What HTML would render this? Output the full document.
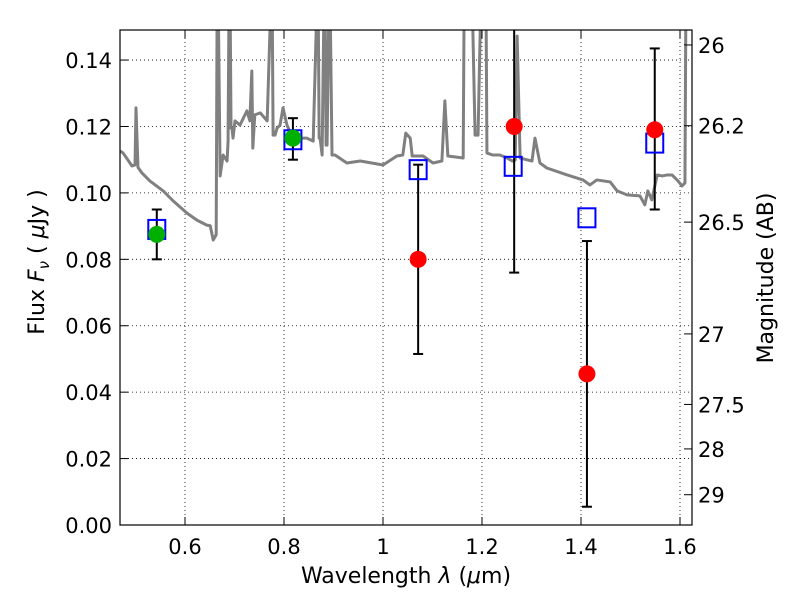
<!DOCTYPE html>
<html><head><meta charset="utf-8"><style>
html,body{margin:0;padding:0;background:#fff;}
svg text{font-family:"DejaVu Sans","Liberation Sans",sans-serif;fill:#000;}
</style></head><body>
<svg id="chart" width="800" height="600" xmlns="http://www.w3.org/2000/svg">
<defs><clipPath id="clip"><rect x="120" y="30" width="572" height="495"/></clipPath></defs>
<rect width="800" height="600" fill="#fff"/>
<g id="grid"></g>
<g id="spec" clip-path="url(#clip)"></g>
<g id="marks" clip-path="url(#clip)"></g>
<rect x="120" y="30" width="572" height="495" fill="none" stroke="#000" stroke-width="1.2"/>
<g id="axes"></g>
<text x="406" y="583" font-size="22" text-anchor="middle">Wavelength  <tspan font-style="italic">λ</tspan> (<tspan font-style="italic">μ</tspan>m)</text>
<text transform="translate(44,262) rotate(-90)" font-size="22" text-anchor="middle">Flux  <tspan font-style="italic">F<tspan font-size="15" dy="5">ν</tspan></tspan><tspan dy="-5">  (  </tspan><tspan font-style="italic">μ</tspan>Jy )</text>
<text transform="translate(773,278) rotate(-90)" font-size="22" text-anchor="middle">Magnitude (AB)</text>
</svg>
<script>
const specLam=[0.469,0.475,0.493,0.499,0.501,0.505,0.513,0.529,0.556,0.576,0.604,0.624,0.644,0.651,0.657,0.663,0.665,0.667,0.671,0.677,0.685,0.687,0.689,0.691,0.693,0.695,0.697,0.701,0.711,0.725,0.731,0.735,0.737,0.741,0.752,0.766,0.774,0.776,0.778,0.782,0.786,0.792,0.798,0.806,0.818,0.846,0.859,0.867,0.869,0.871,0.873,0.877,0.881,0.883,0.885,0.887,0.891,0.893,0.897,0.899,0.903,0.927,0.954,1.000,1.028,1.040,1.046,1.055,1.059,1.081,1.101,1.119,1.125,1.131,1.162,1.164,1.166,1.178,1.180,1.186,1.192,1.198,1.200,1.206,1.208,1.210,1.222,1.236,1.251,1.261,1.267,1.271,1.277,1.301,1.307,1.317,1.331,1.372,1.404,1.418,1.432,1.459,1.473,1.493,1.519,1.529,1.535,1.543,1.554,1.564,1.574,1.584,1.596,1.604,1.610,1.612,1.620];
const specFlux=[0.1126,0.1120,0.1081,0.1084,0.1256,0.1077,0.1060,0.1036,0.1006,0.0976,0.0939,0.0918,0.0903,0.0901,0.0858,0.0874,0.16,0.16,0.1051,0.1114,0.1096,0.1156,0.16,0.16,0.1195,0.1195,0.1165,0.1217,0.1204,0.1247,0.1217,0.1367,0.1135,0.1235,0.1241,0.1217,0.16,0.16,0.1174,0.1174,0.1195,0.1204,0.1256,0.1204,0.1165,0.1165,0.1156,0.16,0.16,0.1165,0.1165,0.1114,0.16,0.16,0.1144,0.1144,0.16,0.16,0.1114,0.1114,0.1114,0.1090,0.1096,0.1084,0.1111,0.1114,0.1180,0.1165,0.1111,0.1111,0.1090,0.1096,0.1277,0.1111,0.1105,0.16,0.16,0.16,0.16,0.1174,0.1174,0.16,0.16,0.16,0.16,0.1120,0.1114,0.1114,0.1105,0.1096,0.1099,0.1472,0.1105,0.1096,0.1165,0.1090,0.1075,0.1054,0.1039,0.1024,0.1039,0.1033,0.1006,0.0994,0.0991,0.0964,0.1006,0.0979,0.1054,0.1051,0.1054,0.1054,0.1036,0.1021,0.1030,0.16,0.16];
const greenLam=[0.543,0.818];
const greenFlux=[0.0875,0.1165];
const greenLo=[0.080,0.110];
const greenHi=[0.095,0.1225];
const blueLam=[0.543,0.818,1.071,1.263,1.412,1.549];
const blueFlux=[0.089,0.116,0.107,0.108,0.0925,0.115];
const redLam=[1.071,1.265,1.412,1.549];
const redFlux=[0.080,0.120,0.0455,0.119];
const redLo=[0.0515,0.076,0.0055,0.095];
const redHi=[0.1085,0.16,0.0855,0.1435];
const xTicks=[0.6,0.8,1.0,1.2,1.4,1.6];
const xTickLabels=["0.6","0.8","1","1.2","1.4","1.6"];
const yTicks=[0,0.02,0.04,0.06,0.08,0.10,0.12,0.14];
const yTickLabels=["0.00","0.02","0.04","0.06","0.08","0.10","0.12","0.14"];
const magTicks=[26,26.2,26.5,27,27.5,28,29];
const magLabels=["26","26.2","26.5","27","27.5","28","29"];

const NS="http://www.w3.org/2000/svg";
const X=v=>185+(v-0.6)*495;
const Y=f=>525-f*3321;
const MY=m=>Y(Math.pow(10,(23.9-m)/2.5));
function mk(tag,attrs,parent){const e=document.createElementNS(NS,tag);for(const k in attrs)e.setAttribute(k,attrs[k]);parent.appendChild(e);return e;}
const grid=document.getElementById('grid'),axes=document.getElementById('axes'),spec=document.getElementById('spec'),marks=document.getElementById('marks');

xTicks.forEach((t,i)=>{const x=X(t);
 const g=mk('line',{x1:x,x2:x,y1:30,y2:525,stroke:'#000','stroke-width':0.8,'stroke-dasharray':'1,3'},grid);
 
 
 mk('line',{x1:x,x2:x,y1:525,y2:517,stroke:'#000'},axes);
 mk('line',{x1:x,x2:x,y1:30,y2:38,stroke:'#000'},axes);
 const tx=mk('text',{x:x,y:554,'font-size':21,'text-anchor':'middle'},axes);tx.textContent=xTickLabels[i];
 
 
});
yTicks.forEach((t,i)=>{const y=Y(t);
 if(i>0){const g=mk('line',{x1:120,x2:692,y1:y,y2:y,stroke:'#000','stroke-width':0.8,'stroke-dasharray':'1,3'},grid);
 
 }
 mk('line',{x1:120,x2:128,y1:y,y2:y,stroke:'#000'},axes);
 const tx=mk('text',{x:112,y:y+8,'font-size':21,'text-anchor':'end'},axes);tx.textContent=yTickLabels[i];
 
 
});
magTicks.forEach((m,i)=>{const y=MY(m);
 mk('line',{x1:684,x2:692,y1:y,y2:y,stroke:'#000'},axes);
 const tx=mk('text',{x:698,y:y+8,'font-size':21},axes);tx.textContent=magLabels[i];
 
 
});
const path=mk('polyline',{points:specLam.map((l,i)=>X(l)+','+Y(specFlux[i])).join(' '),fill:'none',stroke:'#808080','stroke-width':3,'stroke-linejoin':'round'},spec);



function errbar(l,lo,hi){const x=X(l);
 const g=mk('g',{},marks);
 
 
 mk('line',{x1:x,x2:x,y1:Y(lo),y2:Y(hi),stroke:'#000','stroke-width':2},g);
 mk('line',{x1:x-5,x2:x+5,y1:Y(lo),y2:Y(lo),stroke:'#000','stroke-width':2},g);
 mk('line',{x1:x-5,x2:x+5,y1:Y(hi),y2:Y(hi),stroke:'#000','stroke-width':2},g);
}
greenLam.forEach((l,i)=>errbar(l,greenLo[i],greenHi[i]));
redLam.forEach((l,i)=>errbar(l,redLo[i],redHi[i]));
blueLam.forEach((l,i)=>{const r=mk('rect',{x:X(l)-8.5,y:Y(blueFlux[i])-9.5,width:17,height:19,fill:'none',stroke:'#0000ff','stroke-width':2},marks);
 
 
});
greenLam.forEach((l,i)=>{const c=mk('circle',{cx:X(l),cy:Y(greenFlux[i]),r:8.5,fill:'#00b000'},marks);
 
 
});
redLam.forEach((l,i)=>{const c=mk('circle',{cx:X(l),cy:Y(redFlux[i]),r:8.5,fill:'#ff0000'},marks);
 
 
});
</script>
</body></html>
